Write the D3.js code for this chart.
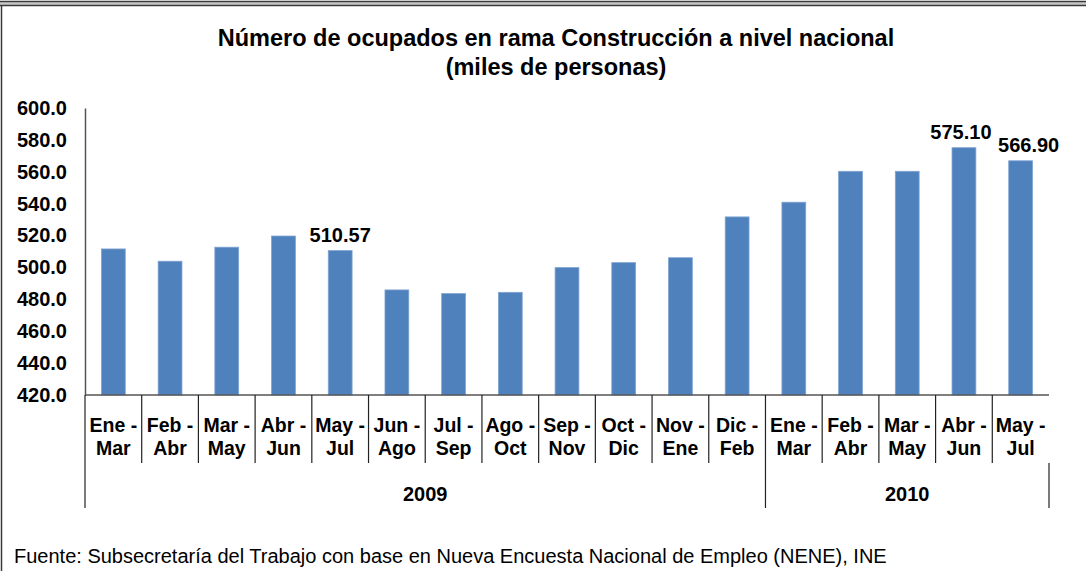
<!DOCTYPE html>
<html>
<head>
<meta charset="utf-8">
<script src="https://cdn.jsdelivr.net/npm/d3@7"></script>
<style>
  body { margin: 0; background: #fff; }
  svg { display: block; font-family: "Liberation Sans", Arial, sans-serif; }
</style>
</head>
<body>
<div class="chart"></div>
<script>
// data
const periods = ["Ene - Mar", "Feb - Abr", "Mar - May", "Abr - Jun", "May - Jul", "Jun - Ago",
  "Jul - Sep", "Ago - Oct", "Sep - Nov", "Oct - Dic", "Nov - Ene", "Dic - Feb",
  "Ene - Mar", "Feb - Abr", "Mar - May", "Abr - Jun", "May - Jul"];
const ocupados = [511.6, 503.9, 512.7, 519.7, 510.57, 485.9, 483.6, 484.4, 499.9, 503.0,
  506.1, 531.7, 540.9, 560.3, 560.3, 575.10, 566.90];
const years = ["2009", "2010"];
const yearCounts = [12, 5];
const labelled = [4, 15, 16];   // bars with a value shown
const yTicks = [420, 440, 460, 480, 500, 520, 540, 560, 580, 600];

const width = 1086, height = 571;
const plotLeft = 85, plotRight = 1049, plotTop = 108, plotBottom = 395;

const svg = d3.select(".chart")
  .append("svg")
    .attr("width", width)
    .attr("height", height);

// frame: double line on top, single line on the left
svg.append("rect").attr("x", 0).attr("y", 1).attr("width", width).attr("height", 4).attr("fill", "#c8c8c8");
svg.append("line").attr("x1", 0).attr("x2", width).attr("y1", 1.5).attr("y2", 1.5).attr("stroke", "#3a3a3a").attr("stroke-width", 1.5);
svg.append("line").attr("x1", 0).attr("x2", width).attr("y1", 5.5).attr("y2", 5.5).attr("stroke", "#3a3a3a").attr("stroke-width", 1.5);
svg.append("line").attr("x1", 1.5).attr("x2", 1.5).attr("y1", 5).attr("y2", height).attr("stroke", "#3a3a3a").attr("stroke-width", 1.5);

const x = d3.scaleBand()
  .domain(d3.range(periods.length))
  .range([plotLeft, plotRight])
  .padding(0);

const y = d3.scaleLinear()
  .domain([420, 600])
  .range([plotBottom, plotTop]);

// title
const title = svg.append("text")
  .attr("text-anchor", "middle")
  .attr("font-weight", "bold")
  .attr("font-size", 23.5);
title.append("tspan").attr("x", 556).attr("y", 46).text("Número de ocupados en rama Construcción a nivel nacional");
title.append("tspan").attr("x", 556).attr("y", 75).text("(miles de personas)");

// bars
const barW = x.bandwidth() * 0.42;
svg.selectAll("rect.bar")
  .data(ocupados)
  .join("rect")
    .attr("class", "bar")
    .attr("x", (d, i) => x(i) + (x.bandwidth() - barW) / 2)
    .attr("y", d => y(d))
    .attr("width", barW)
    .attr("height", d => y(420) - y(d))
    .attr("fill", "#4f81bd")
    .attr("stroke", "#7fa3d2")
    .attr("stroke-width", 0.8);

// value labels
const labelShift = {16: 8, 15: -3};
svg.selectAll("text.value")
  .data(labelled)
  .join("text")
    .attr("class", "value")
    .attr("x", i => x(i) + x.bandwidth() / 2 + (labelShift[i] || 0))
    .attr("y", i => y(ocupados[i]) - 9)
    .attr("text-anchor", "middle")
    .attr("font-weight", "bold")
    .attr("font-size", 20)
    .text(i => ocupados[i].toFixed(2));

// y axis
const yAxis = svg.append("g")
  .attr("transform", `translate(${plotLeft},0)`)
  .call(d3.axisLeft(y).tickValues(yTicks).tickFormat(d3.format(".1f")).tickSize(0).tickPadding(18));
yAxis.select(".domain").attr("stroke", "#555").attr("stroke-width", 1.5);
yAxis.selectAll("text")
  .attr("font-family", "Liberation Sans, Arial, sans-serif")
  .attr("font-weight", "bold")
  .attr("font-size", 20)
  .attr("fill", "#000");

// category axis
svg.append("line")
  .attr("x1", plotLeft).attr("x2", plotRight)
  .attr("y1", plotBottom).attr("y2", plotBottom)
  .attr("stroke", "#555").attr("stroke-width", 1.5);

svg.selectAll("line.sep")
  .data(d3.range(1, periods.length))
  .join("line")
    .attr("class", "sep")
    .attr("x1", i => x(i)).attr("x2", i => x(i))
    .attr("y1", plotBottom).attr("y2", 463)
    .attr("stroke", "#222").attr("stroke-width", 1.2);

const cat = svg.selectAll("text.cat")
  .data(periods)
  .join("text")
    .attr("class", "cat")
    .attr("text-anchor", "middle")
    .attr("font-weight", "bold")
    .attr("font-size", 19.5);
cat.append("tspan")
  .attr("x", (d, i) => x(i) + x.bandwidth() / 2)
  .attr("y", 432)
  .text(d => d.split(" - ")[0] + " -");
cat.append("tspan")
  .attr("x", (d, i) => x(i) + x.bandwidth() / 2)
  .attr("y", 455)
  .text(d => d.split(" - ")[1]);

// year groups
const starts = [0, yearCounts[0]];
const edges = [0, yearCounts[0], periods.length];
svg.selectAll("line.group")
  .data(edges)
  .join("line")
    .attr("class", "group")
    .attr("x1", i => i === periods.length ? plotRight : x(i))
    .attr("x2", i => i === periods.length ? plotRight : x(i))
    .attr("y1", i => i === 0 ? plotBottom : 463)
    .attr("y2", 508)
    .attr("stroke", "#222").attr("stroke-width", 1.2);

svg.selectAll("text.year")
  .data(years)
  .join("text")
    .attr("class", "year")
    .attr("x", (d, k) => {
      const a = x(starts[k]);
      const b = starts[k] + yearCounts[k] === periods.length ? plotRight : x(starts[k] + yearCounts[k]);
      return (a + b) / 2;
    })
    .attr("y", 501)
    .attr("text-anchor", "middle")
    .attr("font-weight", "bold")
    .attr("font-size", 20)
    .text(d => d);

// source note
svg.append("text")
  .attr("x", 14)
  .attr("y", 563)
  .attr("font-size", 20)
  .text("Fuente: Subsecretaría del Trabajo con base en Nueva Encuesta Nacional de Empleo (NENE), INE");
</script>
</body>
</html>
